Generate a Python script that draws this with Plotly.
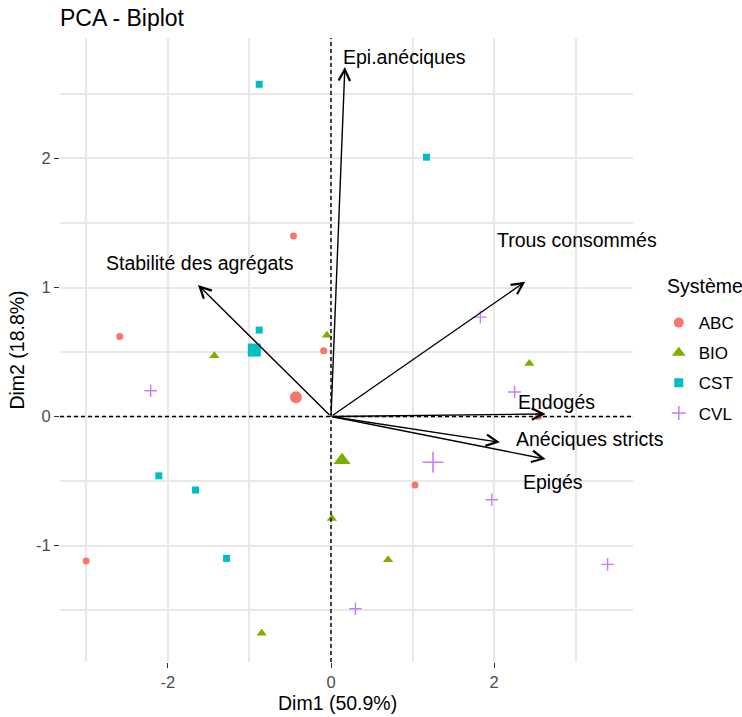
import plotly.graph_objects as go

# Individuals on the first two PCA dimensions, grouped by cropping system
systems = ["ABC", "BIO", "CST", "CVL"]

abc_dim1 = [-0.46, -2.59, -0.09, -3.00, 1.03, 2.54]
abc_dim2 = [1.40, 0.62, 0.51, -1.12, -0.53, 0.00]

bio_dim1 = [-0.05, -1.43, 2.43, 0.01, 0.70, -0.85]
bio_dim2 = [0.63, 0.47, 0.41, -0.79, -1.11, -1.68]

cst_dim1 = [-0.88, 1.17, -0.88, -2.11, -1.66, -1.28]
cst_dim2 = [2.575, 2.01, 0.67, -0.46, -0.57, -1.10]

cvl_dim1 = [1.83, -2.21, 2.25, 1.97, 3.39, 0.30]
cvl_dim2 = [0.77, 0.20, 0.19, -0.645, -1.146, -1.49]

# Group mean points (one per system)
centroid_dim1 = [-0.43, 0.135, -0.94, 1.25]
centroid_dim2 = [0.15, -0.34, 0.515, -0.355]

# Variable loadings (arrow tips)
variables = ["Epi.anéciques", "Stabilité des agrégats", "Trous consommés",
             "Endogés", "Anéciques stricts", "Epigés"]
var_dim1 = [0.17, -1.63, 2.38, 2.63, 2.07, 2.63]
var_dim2 = [2.71, 1.02, 1.045, 0.02, -0.20, -0.33]

x_ticks = [-2, 0, 2]
y_ticks = [-1, 0, 1, 2]

dim1_label = "Dim1 (50.9%)"
dim2_label = "Dim2 (18.8%)"
legend_title = "Système"

# Styling / placement
FONT = "Arial, Liberation Sans, sans-serif"
group_style = {
    "ABC": dict(color="#F8766D", symbol="circle", size=7, big=12, key=10),
    "BIO": dict(color="#7CAE00", symbol="triangle-up", size=9, big=15, key=12),
    "CST": dict(color="#00BFC4", symbol="square", size=7, big=13, key=9),
    "CVL": dict(color="#C77CFF", symbol="cross-thin", size=9, big=15, key=10),
}
label_xy = {
    "Epi.anéciques": (0.90, 2.79),
    "Stabilité des agrégats": (-1.61, 1.19),
    "Trous consommés": (3.01, 1.37),
    "Endogés": (2.76, 0.11),
    "Anéciques stricts": (3.18, -0.175),
    "Epigés": (2.72, -0.51),
}

points = {
    "ABC": (abc_dim1, abc_dim2),
    "BIO": (bio_dim1, bio_dim2),
    "CST": (cst_dim1, cst_dim2),
    "CVL": (cvl_dim1, cvl_dim2),
}


def marker_line(st, w):
    if st["symbol"] == "cross-thin":
        return dict(width=w, color=st["color"])
    return dict(width=0)


fig = go.Figure()

for i, name in enumerate(systems):
    st = group_style[name]
    xs, ys = points[name]
    fig.add_trace(go.Scatter(
        x=xs, y=ys, mode="markers", name=name, legendgroup=name, showlegend=False,
        marker=dict(color=st["color"], symbol=st["symbol"], size=st["size"],
                    line=marker_line(st, 1.4)),
        hoverinfo="skip",
    ))
    fig.add_trace(go.Scatter(
        x=[centroid_dim1[i]], y=[centroid_dim2[i]], mode="markers",
        legendgroup=name, showlegend=False,
        marker=dict(color=st["color"], symbol=st["symbol"], size=st["big"],
                    line=marker_line(st, 1.6)),
        hoverinfo="skip",
    ))
    # legend key
    fig.add_trace(go.Scatter(
        x=[None], y=[None], mode="markers", name=name, legendgroup=name,
        marker=dict(color=st["color"], symbol=st["symbol"], size=st["key"],
                    line=marker_line(st, 1.5)),
        hoverinfo="skip",
    ))

# Dashed reference lines through the origin
fig.add_shape(type="line", xref="x domain", yref="y", x0=0, x1=1, y0=0, y1=0,
              line=dict(color="black", width=1.4, dash="4px,3px"), layer="above")
fig.add_shape(type="line", xref="x", yref="y domain", x0=0, x1=0, y0=0, y1=1,
              line=dict(color="black", width=1.4, dash="4px,3px"), layer="above")

# Variable arrows and their labels
for name, vx, vy in zip(variables, var_dim1, var_dim2):
    fig.add_annotation(
        x=vx, y=vy, ax=0, ay=0, xref="x", yref="y", axref="x", ayref="y",
        text="", showarrow=True, arrowhead=5, arrowsize=1.6, arrowwidth=1.4,
        arrowcolor="black", standoff=0, startstandoff=0,
    )
    lx, ly = label_xy[name]
    fig.add_annotation(
        x=lx, y=ly, xref="x", yref="y", text=name, showarrow=False,
        xanchor="center", yanchor="middle",
        font=dict(family=FONT, size=19.5, color="black"),
    )

# Axis titles and legend heading
fig.add_annotation(
    x=0.485, y=-0.066, xref="paper", yref="paper", text=dim1_label, showarrow=False,
    xanchor="center", yanchor="middle", font=dict(family=FONT, size=19.5, color="black"),
)
fig.add_annotation(
    x=1.056, y=0.6026, xref="paper", yref="paper", text=legend_title, showarrow=False,
    xanchor="left", yanchor="middle", font=dict(family=FONT, size=19.5, color="black"),
)

grid = "#E8E8E8"
tickfont = dict(family=FONT, size=16.5, color="#4D4D4D")
fig.update_xaxes(
    range=[-3.321, 3.701], tickmode="array", tickvals=x_ticks,
    ticktext=[str(v) for v in x_ticks],
    showgrid=True, gridcolor=grid, gridwidth=1.6,
    minor=dict(dtick=1, tick0=0, showgrid=True, gridcolor=grid, gridwidth=1.6),
    zeroline=False, showline=False, ticks="outside", ticklen=5, tickwidth=1.4,
    tickcolor="#333333", tickfont=tickfont,
)
fig.update_yaxes(
    range=[-1.903, 2.934], tickmode="array", tickvals=y_ticks,
    ticktext=[str(v) for v in y_ticks],
    showgrid=True, gridcolor=grid, gridwidth=1.6,
    minor=dict(dtick=0.5, tick0=0, showgrid=True, gridcolor=grid, gridwidth=1.6),
    zeroline=False, showline=False, ticks="outside", ticklen=5, tickwidth=1.4,
    tickcolor="#333333", tickfont=tickfont,
    title=dict(text=dim2_label, font=dict(family=FONT, size=19.5, color="black"), standoff=6),
)

fig.update_layout(
    width=742, height=717,
    margin=dict(l=60, r=109, t=38, b=55, autoexpand=False),
    paper_bgcolor="white", plot_bgcolor="white",
    font=dict(family=FONT),
    title=dict(text="PCA - Biplot", x=60 / 742, xanchor="left", xref="container",
               y=1 - 18 / 717, yanchor="middle",
               font=dict(family=FONT, size=23, color="black")),
    legend=dict(
        font=dict(family=FONT, size=17, color="black"),
        x=1.045, xanchor="left", y=0.572, yanchor="top",
        tracegroupgap=5, itemsizing="trace", bgcolor="rgba(0,0,0,0)",
    ),
)

fig.write_html("out.html")
